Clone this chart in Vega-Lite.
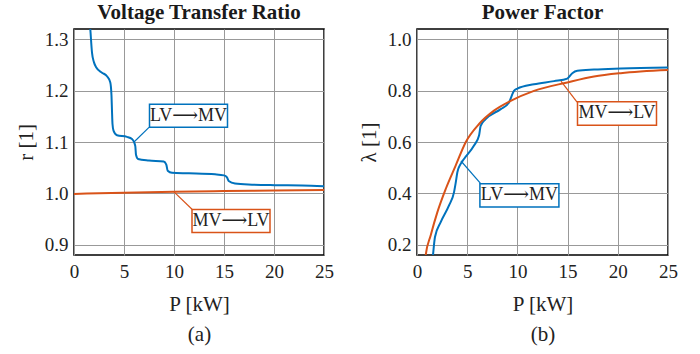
{
  "$schema": "https://vega.github.io/schema/vega-lite/v6.json",
  "padding": {"left": 14, "top": 1, "right": 5, "bottom": 5},
  "background": "white",
  "datasets": {
    "ratio": [
      {"P": 1.55, "r": 1.34, "dir": "LV→MV"},
      {"P": 1.63, "r": 1.32, "dir": "LV→MV"},
      {"P": 1.8, "r": 1.274, "dir": "LV→MV"},
      {"P": 2.0, "r": 1.255, "dir": "LV→MV"},
      {"P": 2.23, "r": 1.245, "dir": "LV→MV"},
      {"P": 2.8, "r": 1.235, "dir": "LV→MV"},
      {"P": 3.3, "r": 1.228, "dir": "LV→MV"},
      {"P": 3.63, "r": 1.216, "dir": "LV→MV"},
      {"P": 3.75, "r": 1.19, "dir": "LV→MV"},
      {"P": 3.8, "r": 1.16, "dir": "LV→MV"},
      {"P": 3.85, "r": 1.135, "dir": "LV→MV"},
      {"P": 3.95, "r": 1.122, "dir": "LV→MV"},
      {"P": 4.3, "r": 1.113, "dir": "LV→MV"},
      {"P": 5.3, "r": 1.11, "dir": "LV→MV"},
      {"P": 5.8, "r": 1.106, "dir": "LV→MV"},
      {"P": 6.0, "r": 1.1, "dir": "LV→MV"},
      {"P": 6.13, "r": 1.092, "dir": "LV→MV"},
      {"P": 6.2, "r": 1.075, "dir": "LV→MV"},
      {"P": 6.4, "r": 1.067, "dir": "LV→MV"},
      {"P": 7.5, "r": 1.064, "dir": "LV→MV"},
      {"P": 8.97, "r": 1.062, "dir": "LV→MV"},
      {"P": 9.23, "r": 1.056, "dir": "LV→MV"},
      {"P": 9.37, "r": 1.044, "dir": "LV→MV"},
      {"P": 9.8, "r": 1.04, "dir": "LV→MV"},
      {"P": 11.5, "r": 1.039, "dir": "LV→MV"},
      {"P": 14.1, "r": 1.037, "dir": "LV→MV"},
      {"P": 15.0, "r": 1.035, "dir": "LV→MV"},
      {"P": 15.3, "r": 1.031, "dir": "LV→MV"},
      {"P": 15.47, "r": 1.024, "dir": "LV→MV"},
      {"P": 16.1, "r": 1.019, "dir": "LV→MV"},
      {"P": 17.8, "r": 1.017, "dir": "LV→MV"},
      {"P": 20.1, "r": 1.016, "dir": "LV→MV"},
      {"P": 22.8, "r": 1.0155, "dir": "LV→MV"},
      {"P": 25, "r": 1.014, "dir": "LV→MV"},
      {"P": 0, "r": 0.999, "dir": "MV→LV"},
      {"P": 2.5, "r": 1.0, "dir": "MV→LV"},
      {"P": 5, "r": 1.001, "dir": "MV→LV"},
      {"P": 10, "r": 1.003, "dir": "MV→LV"},
      {"P": 15, "r": 1.0045, "dir": "MV→LV"},
      {"P": 20, "r": 1.0055, "dir": "MV→LV"},
      {"P": 25, "r": 1.0065, "dir": "MV→LV"}
    ],
    "pf": [
      {"P": 1.5, "r": 0.12, "dir": "LV→MV"},
      {"P": 1.59, "r": 0.158, "dir": "LV→MV"},
      {"P": 1.79, "r": 0.23, "dir": "LV→MV"},
      {"P": 2.36, "r": 0.288, "dir": "LV→MV"},
      {"P": 3.19, "r": 0.353, "dir": "LV→MV"},
      {"P": 3.69, "r": 0.405, "dir": "LV→MV"},
      {"P": 3.85, "r": 0.44, "dir": "LV→MV"},
      {"P": 4.02, "r": 0.482, "dir": "LV→MV"},
      {"P": 4.35, "r": 0.515, "dir": "LV→MV"},
      {"P": 4.68, "r": 0.534, "dir": "LV→MV"},
      {"P": 5.68, "r": 0.586, "dir": "LV→MV"},
      {"P": 6.18, "r": 0.625, "dir": "LV→MV"},
      {"P": 6.34, "r": 0.663, "dir": "LV→MV"},
      {"P": 6.84, "r": 0.689, "dir": "LV→MV"},
      {"P": 8.34, "r": 0.728, "dir": "LV→MV"},
      {"P": 9.16, "r": 0.754, "dir": "LV→MV"},
      {"P": 9.66, "r": 0.799, "dir": "LV→MV"},
      {"P": 10.0, "r": 0.808, "dir": "LV→MV"},
      {"P": 11.65, "r": 0.825, "dir": "LV→MV"},
      {"P": 13.65, "r": 0.837, "dir": "LV→MV"},
      {"P": 14.97, "r": 0.847, "dir": "LV→MV"},
      {"P": 15.47, "r": 0.868, "dir": "LV→MV"},
      {"P": 15.97, "r": 0.877, "dir": "LV→MV"},
      {"P": 17.63, "r": 0.882, "dir": "LV→MV"},
      {"P": 20.3, "r": 0.886, "dir": "LV→MV"},
      {"P": 25, "r": 0.89, "dir": "LV→MV"},
      {"P": 0.75, "r": 0.12, "dir": "MV→LV"},
      {"P": 0.86, "r": 0.158, "dir": "MV→LV"},
      {"P": 1.36, "r": 0.236, "dir": "MV→LV"},
      {"P": 2.03, "r": 0.327, "dir": "MV→LV"},
      {"P": 2.86, "r": 0.417, "dir": "MV→LV"},
      {"P": 3.85, "r": 0.508, "dir": "MV→LV"},
      {"P": 4.85, "r": 0.599, "dir": "MV→LV"},
      {"P": 6.18, "r": 0.67, "dir": "MV→LV"},
      {"P": 7.67, "r": 0.722, "dir": "MV→LV"},
      {"P": 9.33, "r": 0.76, "dir": "MV→LV"},
      {"P": 11.65, "r": 0.799, "dir": "MV→LV"},
      {"P": 14.97, "r": 0.832, "dir": "MV→LV"},
      {"P": 17.63, "r": 0.855, "dir": "MV→LV"},
      {"P": 20.29, "r": 0.868, "dir": "MV→LV"},
      {"P": 25, "r": 0.88, "dir": "MV→LV"}
    ],
    "annA": [
      {"dir": "LV→MV", "label": "LV⟶MV", "P": 6.0, "r": 1.1, "P2": 7.5, "r2": 1.1285, "tP": 11.45, "tr": 1.151},
      {"dir": "MV→LV", "label": "MV⟶LV", "P": 10.0, "r": 1.003, "P2": 11.8, "r2": 0.969, "tP": 15.7, "tr": 0.946}
    ],
    "annB": [
      {"dir": "MV→LV", "label": "MV⟶LV", "P": 14.34, "r": 0.837, "P2": 15.94, "r2": 0.755, "tP": 19.92, "tr": 0.711},
      {"dir": "LV→MV", "label": "LV⟶MV", "P": 4.38, "r": 0.526, "P2": 6.37, "r2": 0.437, "tP": 10.2, "tr": 0.392}
    ]
  },
  "hconcat": [
    {
      "width": 250,
      "height": 226,
      "title": {"text": "Voltage Transfer Ratio"},
      "layer": [
        {
          "data": {"name": "ratio"},
          "mark": {"type": "line", "strokeWidth": 2, "clip": true, "interpolate": "monotone"},
          "encoding": {
            "x": {"field": "P", "type": "quantitative", "scale": {"domain": [0, 25], "nice": false}, "axis": {"values": [0, 5, 10, 15, 20, 25], "title": ["P [kW]", "(a)"]}},
            "y": {"field": "r", "type": "quantitative", "scale": {"domain": [0.88, 1.32], "nice": false, "zero": false}, "axis": {"values": [0.9, 1.0, 1.1, 1.2, 1.3], "format": ".1f", "title": "r [1]"}},
            "color": {"field": "dir", "type": "nominal", "scale": {"domain": ["LV→MV", "MV→LV"], "range": ["#0072BD", "#D95319"]}, "legend": null}
          }
        },
        {
          "data": {"name": "annA"},
          "mark": {"type": "rule", "strokeWidth": 1.2},
          "encoding": {
            "x": {"field": "P", "type": "quantitative"},
            "y": {"field": "r", "type": "quantitative"},
            "x2": {"field": "P2"},
            "y2": {"field": "r2"},
            "color": {"field": "dir", "type": "nominal", "legend": null}
          }
        },
        {
          "data": {"name": "annA"},
          "mark": {"type": "point", "shape": "M-1,-0.295L1,-0.295L1,0.295L-1,0.295Z", "size": 6084, "filled": false, "fill": "white", "fillOpacity": 1, "opacity": 1, "strokeWidth": 1.5},
          "encoding": {
            "x": {"field": "tP", "type": "quantitative"},
            "y": {"field": "tr", "type": "quantitative"},
            "stroke": {"field": "dir", "type": "nominal", "scale": {"domain": ["LV→MV", "MV→LV"], "range": ["#0072BD", "#D95319"]}, "legend": null}
          }
        },
        {
          "data": {"name": "annA"},
          "mark": {"type": "text", "fontSize": 18, "color": "#222", "font": "Liberation Serif, DejaVu Serif"},
          "encoding": {
            "x": {"field": "tP", "type": "quantitative"},
            "y": {"field": "tr", "type": "quantitative"},
            "text": {"field": "label"}
          }
        }
      ]
    },
    {
      "width": 251,
      "height": 226,
      "title": {"text": "Power Factor"},
      "layer": [
        {
          "data": {"name": "pf"},
          "mark": {"type": "line", "strokeWidth": 2, "clip": true, "interpolate": "monotone"},
          "encoding": {
            "x": {"field": "P", "type": "quantitative", "scale": {"domain": [0, 25], "nice": false}, "axis": {"values": [0, 5, 10, 15, 20, 25], "title": ["P [kW]", "(b)"]}},
            "y": {"field": "r", "type": "quantitative", "scale": {"domain": [0.16, 1.04], "nice": false, "zero": false}, "axis": {"values": [0.2, 0.4, 0.6, 0.8, 1.0], "format": ".1f", "title": "λ [1]"}},
            "color": {"field": "dir", "type": "nominal", "scale": {"domain": ["LV→MV", "MV→LV"], "range": ["#0072BD", "#D95319"]}, "legend": null}
          }
        },
        {
          "data": {"name": "annB"},
          "mark": {"type": "rule", "strokeWidth": 1.2},
          "encoding": {
            "x": {"field": "P", "type": "quantitative"},
            "y": {"field": "r", "type": "quantitative"},
            "x2": {"field": "P2"},
            "y2": {"field": "r2"},
            "color": {"field": "dir", "type": "nominal", "legend": null}
          }
        },
        {
          "data": {"name": "annB"},
          "mark": {"type": "point", "shape": "M-1,-0.295L1,-0.295L1,0.295L-1,0.295Z", "size": 6241, "filled": false, "fill": "white", "fillOpacity": 1, "opacity": 1, "strokeWidth": 1.5},
          "encoding": {
            "x": {"field": "tP", "type": "quantitative"},
            "y": {"field": "tr", "type": "quantitative"},
            "stroke": {"field": "dir", "type": "nominal", "scale": {"domain": ["LV→MV", "MV→LV"], "range": ["#0072BD", "#D95319"]}, "legend": null}
          }
        },
        {
          "data": {"name": "annB"},
          "mark": {"type": "text", "fontSize": 18, "color": "#222", "font": "Liberation Serif, DejaVu Serif"},
          "encoding": {
            "x": {"field": "tP", "type": "quantitative"},
            "y": {"field": "tr", "type": "quantitative"},
            "text": {"field": "label"}
          }
        }
      ]
    }
  ],
  "spacing": 22,
  "config": {
    "font": "Liberation Serif",
    "view": {"stroke": "black", "strokeWidth": 1.5},
    "title": {"font": "Liberation Serif", "fontSize": 21, "fontWeight": "bold", "color": "#1a1a1a", "offset": 6},
    "axis": {
      "labelFont": "Liberation Serif",
      "titleFont": "Liberation Serif",
      "labelFontSize": 19,
      "titleFontSize": 21,
      "titleFontWeight": "normal",
      "labelColor": "#222",
      "titleColor": "#222",
      "labelFlush": false,
      "grid": true,
      "gridColor": "#999",
      "gridWidth": 1,
      "ticks": false,
      "domain": false,
      "labelPadding": 6,
      "titlePadding": 8,
      "titleLineHeight": 30
    },
    "axisX": {"labelPadding": 7, "titlePadding": 12},
    "text": {"font": "Liberation Serif"}
  }
}
